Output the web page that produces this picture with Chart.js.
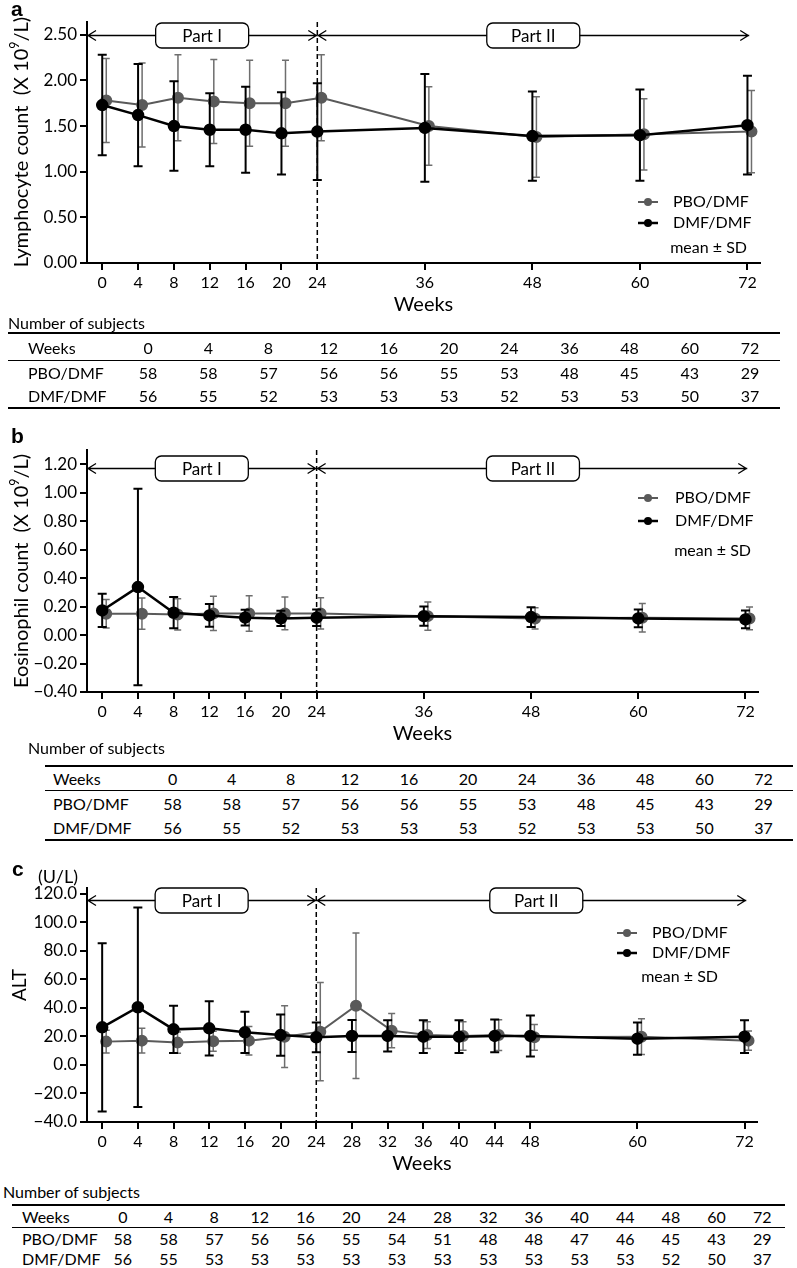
<!DOCTYPE html>
<html>
<head>
<meta charset="utf-8">
<script src="https://cdn.jsdelivr.net/npm/chart.js@4.4.1/dist/chart.umd.min.js"></script>
<style>
  body { margin: 0; background: #fff; width: 797px; height: 1268px; position: relative; overflow: hidden; font-family: Lato, sans-serif; color: #000; }
  canvas { position: absolute; left: 0; }
  .caption { position: absolute; font-size: 16px; line-height: 20px; white-space: nowrap; }
  .ntable { position: absolute; border-top: 2px solid #000; border-bottom: 2px solid #000; font-size: 16px; }
  .nrow { display: flex; box-sizing: border-box; align-items: center; }
  .nrow.head { border-bottom: 1.5px solid #000; }
  .lab { flex: none; box-sizing: border-box; white-space: nowrap; }
  .val { flex: 1; text-align: center; }
</style>
</head>
<body>
<canvas id="chartA" width="797" height="317" style="top:0px"></canvas>
<canvas id="chartB" width="797" height="326" style="top:420px"></canvas>
<canvas id="chartC" width="797" height="326" style="top:850px"></canvas>
<script>
// ---- data ----
const weeksAB = [0, 4, 8, 12, 16, 20, 24, 36, 48, 60, 72];
const weeksC = [0, 4, 8, 12, 16, 20, 24, 28, 32, 36, 40, 44, 48, 60, 72];

// a: lymphocyte count (x10^9/L), mean and SD
const lymphPboMean = [1.78, 1.73, 1.81, 1.77, 1.75, 1.75, 1.81, 1.50, 1.38, 1.41, 1.44];
const lymphPboSd   = [0.46, 0.46, 0.47, 0.46, 0.47, 0.47, 0.47, 0.43, 0.44, 0.39, 0.45];
const lymphDmfMean = [1.73, 1.62, 1.50, 1.46, 1.46, 1.42, 1.44, 1.48, 1.39, 1.40, 1.51];
const lymphDmfSd   = [0.55, 0.56, 0.49, 0.40, 0.47, 0.45, 0.53, 0.59, 0.49, 0.50, 0.54];
const lymphTicks = [0, 0.5, 1, 1.5, 2, 2.5];

// b: eosinophil count (x10^9/L)
const eosPboMean = [0.15, 0.15, 0.145, 0.152, 0.152, 0.152, 0.152, 0.133, 0.117, 0.122, 0.117];
const eosPboSd   = [0.10, 0.11, 0.11, 0.12, 0.125, 0.115, 0.11, 0.10, 0.075, 0.10, 0.08];
const eosDmfMean = [0.173, 0.337, 0.157, 0.138, 0.122, 0.117, 0.122, 0.133, 0.126, 0.117, 0.11];
const eosDmfSd   = [0.117, 0.69, 0.11, 0.08, 0.055, 0.054, 0.058, 0.068, 0.07, 0.063, 0.063];
const eosTicks = [-0.4, -0.2, 0, 0.2, 0.4, 0.6, 0.8, 1.0, 1.2];

// c: ALT (U/L)
const altPboMean = [16.4, 17.1, 15.7, 16.6, 17.1, 19.9, 23.4, 41.6, 24.1, 21.0, 20.4, 21.0, 19.4, 19.9, 17.1];
const altPboSd   = [8.0, 8.7, 7.5, 7.0, 10.0, 21.7, 34.5, 51.0, 12.0, 9.4, 10.0, 10.8, 9.0, 12.5, 6.7];
const altDmfMean = [26.4, 40.5, 25.0, 25.7, 22.9, 21.0, 19.4, 20.4, 20.4, 19.9, 19.9, 20.4, 20.4, 18.5, 19.9];
const altDmfSd   = [59.0, 70.0, 16.5, 19.0, 14.5, 14.5, 10.4, 11.2, 11.0, 11.5, 11.5, 11.5, 14.4, 11.3, 11.5];
const altTicks = [-40, -20, 0, 20, 40, 60, 80, 100, 120];

// number of subjects
const nPboAB = [58, 58, 57, 56, 56, 55, 53, 48, 45, 43, 29];
const nDmfAB = [56, 55, 52, 53, 53, 53, 52, 53, 53, 50, 37];
const nPboC = [58, 58, 57, 56, 56, 55, 54, 51, 48, 48, 47, 46, 45, 43, 29];
const nDmfC = [56, 55, 53, 53, 53, 53, 53, 53, 53, 53, 53, 53, 52, 50, 37];

// ---- styling ----
const FONT = 'Lato, sans-serif';
const PBO_COLOR = '#5a5a5a';
const PBO_ERR = '#6e6e6e';
const DMF_COLOR = '#000000';
const DODGE = 0.45; // PBO points sit a little right of DMF ones

const minus = s => s.replace('-', '\u2212');

// per-panel decorations, keyed by canvas id (kept out of Chart.js option proxies)
const panels = {
  chartA: {
    letter: { text: 'a', x: 11, y: 16 },
    yTitle: { parts: [['Lymphocyte count  (X 10'], ['9', true], ['/L)']], x: 22, y: 142, size: 20 },
    texts: [],
    partOffset: 13.5,
    parts: [{ from: null, to: 24, label: 'Part I', dx: 0 }, { from: 24, to: 72.2, label: 'Part II', dx: 0 }],
    legend: { x: 638, textX: 673, ys: [202, 223], meanX: 747, meanY: 248 }
  },
  chartB: {
    letter: { text: 'b', x: 11, y: 23 },
    yTitle: { parts: [['Eosinophil count  (X 10'], ['9', true], ['/L)']], x: 22, y: 151, size: 20 },
    texts: [],
    partOffset: 18.5,
    parts: [{ from: null, to: 24, label: 'Part I', dx: 0 }, { from: 24, to: 72.2, label: 'Part II', dx: 1 }],
    legend: { x: 638, textX: 675, ys: [78, 101], meanX: 751, meanY: 131 }
  },
  chartC: {
    letter: { text: 'c', x: 12, y: 26 },
    yTitle: { parts: [['ALT']], x: 20, y: 135, size: 19 },
    texts: [{ text: '(U/L)', x: 58, y: 27, size: 18 }],
    partOffset: 12.5,
    parts: [{ from: null, to: 24, label: 'Part I', dx: 0 }, { from: 24, to: 72.2, label: 'Part II', dx: 5 }],
    legend: { x: 617, textX: 652, ys: [83, 103], meanX: 718, meanY: 127 }
  }
};

// rotated title with an optional superscript piece
function drawRotTitle(ctx, t) {
  const sup = t.size * 0.62;
  ctx.save();
  ctx.translate(t.x, t.y);
  ctx.rotate(-Math.PI / 2);
  ctx.textAlign = 'left';
  ctx.textBaseline = 'middle';
  let total = 0;
  t.parts.forEach(([s, isSup]) => {
    ctx.font = (isSup ? sup : t.size) + 'px ' + FONT;
    total += ctx.measureText(s).width;
  });
  let cx = -total / 2;
  t.parts.forEach(([s, isSup]) => {
    ctx.font = (isSup ? sup : t.size) + 'px ' + FONT;
    ctx.fillText(s, cx, isSup ? -t.size * 0.33 : 0);
    cx += ctx.measureText(s).width;
  });
  ctx.restore();
}

// error bars, dashed split line, part arrows, legend, panel letters
const extras = {
  id: 'extras',
  beforeDatasetsDraw(chart) {
    const { ctx, chartArea: a, scales: { x } } = chart;
    const px = x.getPixelForValue(24);
    ctx.save();
    ctx.strokeStyle = '#000';
    ctx.lineWidth = 1.5;
    ctx.setLineDash([5, 3]);
    ctx.beginPath();
    ctx.moveTo(px, a.top);
    ctx.lineTo(px, a.bottom);
    ctx.stroke();
    ctx.restore();
  },
  beforeDatasetDraw(chart, args) {
    const ds = chart.data.datasets[args.index];
    const { ctx, scales: { x, y } } = chart;
    ctx.save();
    ctx.strokeStyle = ds.errColor;
    ctx.lineWidth = ds.errWidth;
    ds.data.forEach((p, i) => {
      const px = x.getPixelForValue(p.x);
      const top = y.getPixelForValue(p.y + ds.sd[i]);
      const bot = y.getPixelForValue(p.y - ds.sd[i]);
      ctx.beginPath();
      ctx.moveTo(px, top); ctx.lineTo(px, bot);
      ctx.moveTo(px - ds.cap, top); ctx.lineTo(px + ds.cap, top);
      ctx.moveTo(px - ds.cap, bot); ctx.lineTo(px + ds.cap, bot);
      ctx.stroke();
    });
    ctx.restore();
  },
  afterDraw(chart) {
    const o = panels[chart.canvas.id];
    const { ctx, chartArea: a, scales: { x } } = chart;
    ctx.save();
    ctx.fillStyle = '#000';
    ctx.strokeStyle = '#000';

    // panel letter
    ctx.font = 'bold 21px "Liberation Sans", Arial, sans-serif';
    ctx.textAlign = 'left';
    ctx.textBaseline = 'alphabetic';
    ctx.fillText(o.letter.text, o.letter.x, o.letter.y);

    drawRotTitle(ctx, o.yTitle);
    o.texts.forEach(t => {
      ctx.font = t.size + 'px ' + FONT;
      ctx.textAlign = 'center';
      ctx.textBaseline = 'middle';
      ctx.fillText(t.text, t.x, t.y);
    });

    // Part I / Part II arrows with boxed labels
    const yy = a.top + o.partOffset;
    ctx.lineWidth = 1.3;
    o.parts.forEach(pt => {
      const x1 = pt.from == null ? a.left : x.getPixelForValue(pt.from);
      const x2 = x.getPixelForValue(pt.to);
      ctx.strokeStyle = '#000';
      ctx.beginPath();
      ctx.moveTo(x1, yy); ctx.lineTo(x2, yy);
      ctx.moveTo(x1 + 9, yy - 5); ctx.lineTo(x1 + 1, yy); ctx.lineTo(x1 + 9, yy + 5);
      ctx.moveTo(x2 - 9, yy - 5); ctx.lineTo(x2 - 1, yy); ctx.lineTo(x2 - 9, yy + 5);
      ctx.stroke();
      const mid = (x1 + x2) / 2 + pt.dx;
      const bw = 93, bh = 25;
      ctx.beginPath();
      ctx.roundRect(mid - bw / 2, yy - bh / 2, bw, bh, 6);
      ctx.fillStyle = '#fff';
      ctx.fill();
      ctx.stroke();
      ctx.fillStyle = '#000';
      ctx.font = '17px ' + FONT;
      ctx.textAlign = 'center';
      ctx.textBaseline = 'middle';
      ctx.fillText(pt.label, mid, yy + 1);
    });

    // legend (PBO first, then DMF)
    const lg = o.legend;
    ctx.font = '16px ' + FONT;
    ctx.textAlign = 'left';
    ctx.textBaseline = 'middle';
    [1, 0].forEach((di, k) => {
      const ds = chart.data.datasets[di];
      const ly = lg.ys[k];
      ctx.strokeStyle = ds.borderColor;
      ctx.lineWidth = ds.borderWidth;
      ctx.beginPath();
      ctx.moveTo(lg.x, ly); ctx.lineTo(lg.x + 20, ly);
      ctx.stroke();
      ctx.fillStyle = ds.pointBackgroundColor;
      ctx.beginPath();
      ctx.arc(lg.x + 10, ly, 4, 0, Math.PI * 2);
      ctx.fill();
      ctx.fillStyle = '#000';
      ctx.fillText(ds.label, lg.textX, ly);
    });
    ctx.textAlign = 'right';
    ctx.fillText('mean \u00B1 SD', lg.meanX, lg.meanY);
    ctx.restore();
  }
};

function makeSets(weeks, pboMean, pboSd, dmfMean, dmfSd) {
  // DMF first so it is drawn on top
  return [
    {
      label: 'DMF/DMF',
      data: weeks.map((w, i) => ({ x: w, y: dmfMean[i] })),
      sd: dmfSd,
      borderColor: DMF_COLOR, pointBackgroundColor: DMF_COLOR, pointBorderColor: DMF_COLOR,
      borderWidth: 2.5, pointRadius: 5, errColor: DMF_COLOR, errWidth: 2, cap: 4.5
    },
    {
      label: 'PBO/DMF',
      data: weeks.map((w, i) => ({ x: w + DODGE, y: pboMean[i] })),
      sd: pboSd,
      borderColor: PBO_COLOR, pointBackgroundColor: PBO_COLOR, pointBorderColor: PBO_COLOR,
      borderWidth: 2, pointRadius: 5, errColor: PBO_ERR, errWidth: 1.5, cap: 3.5
    }
  ];
}

function makeChart(id, cfg) {
  return new Chart(document.getElementById(id), {
    type: 'line',
    data: { datasets: makeSets(cfg.weeks, cfg.pboMean, cfg.pboSd, cfg.dmfMean, cfg.dmfSd) },
    options: {
      responsive: false,
      animation: false,
      layout: { padding: { top: cfg.padTop, right: cfg.padRight, left: 0, bottom: 0 } },
      elements: { line: { tension: 0 } },
      plugins: { legend: { display: false }, tooltip: { enabled: false } },
      scales: {
        x: {
          type: 'linear',
          min: -1.7, max: 73.4,
          afterBuildTicks: s => { s.ticks = cfg.weeks.map(v => ({ value: v })); },
          afterFit: s => { s.height = 54; },
          ticks: { color: '#000', font: { family: FONT, size: 16 }, padding: 3, maxRotation: 0, autoSkip: false },
          grid: { drawOnChartArea: false, drawTicks: true, tickLength: 7, color: '#000', lineWidth: 2 },
          border: { display: true, color: '#000', width: 2 },
          title: { display: true, text: 'Weeks', color: '#000', font: { family: FONT, size: 20 }, padding: 0 }
        },
        y: {
          min: cfg.yMin, max: cfg.yMax,
          afterBuildTicks: s => { s.ticks = cfg.yTicks.map(v => ({ value: v })); },
          afterFit: s => { s.width = 87; },
          ticks: { color: '#000', font: { family: FONT, size: 17 }, padding: 3, callback: v => minus(v.toFixed(cfg.digits)) },
          grid: { drawOnChartArea: false, drawTicks: true, tickLength: 7, color: '#000', lineWidth: 2 },
          border: { display: true, color: '#000', width: 2 }
        }
      }
    },
    plugins: [extras]
  });
}

makeChart('chartA', {
  weeks: weeksAB, pboMean: lymphPboMean, pboSd: lymphPboSd, dmfMean: lymphDmfMean, dmfSd: lymphDmfSd,
  yMin: 0, yMax: 2.64, yTicks: lymphTicks, digits: 2, padTop: 22, padRight: 37
});
makeChart('chartB', {
  weeks: weeksAB, pboMean: eosPboMean, pboSd: eosPboSd, dmfMean: eosDmfMean, dmfSd: eosDmfSd,
  yMin: -0.4, yMax: 1.30, yTicks: eosTicks, digits: 2, padTop: 30, padRight: 39
});
makeChart('chartC', {
  weeks: weeksC, pboMean: altPboMean, pboSd: altPboSd, dmfMean: altDmfMean, dmfSd: altDmfSd,
  yMin: -40, yMax: 124.2, yTicks: altTicks, digits: 1, padTop: 38, padRight: 40
});

// ---- number-of-subjects tables ----
function buildTable(cfg) {
  const cap = document.createElement('div');
  cap.className = 'caption';
  cap.textContent = 'Number of subjects';
  cap.style.left = cfg.capX + 'px';
  cap.style.top = (cfg.capY - 10) + 'px';
  document.body.appendChild(cap);

  const wrap = document.createElement('div');
  wrap.className = 'ntable';
  wrap.style.left = cfg.left + 'px';
  wrap.style.top = cfg.top + 'px';
  wrap.style.width = cfg.width + 'px';
  const rows = [['Weeks', cfg.weeks], ['PBO/DMF', cfg.pbo], ['DMF/DMF', cfg.dmf]];
  rows.forEach((r, i) => {
    const row = document.createElement('div');
    row.className = 'nrow' + (i === 0 ? ' head' : '');
    row.style.height = cfg.rowH[i] + 'px';
    const lab = document.createElement('span');
    lab.className = 'lab';
    lab.style.width = cfg.labelW + 'px';
    lab.style.paddingLeft = cfg.labelPad + 'px';
    lab.textContent = r[0];
    row.appendChild(lab);
    r[1].forEach(v => {
      const c = document.createElement('span');
      c.className = 'val';
      c.textContent = v;
      row.appendChild(c);
    });
    wrap.appendChild(row);
  });
  document.body.appendChild(wrap);
}

buildTable({ capX: 8, capY: 323, left: 8, top: 332, width: 772, labelW: 110, labelPad: 20,
  rowH: [27, 23, 23], weeks: weeksAB, pbo: nPboAB, dmf: nDmfAB });
buildTable({ capX: 28, capY: 748, left: 45, top: 765, width: 748, labelW: 98, labelPad: 8,
  rowH: [24, 24, 24], weeks: weeksAB, pbo: nPboAB, dmf: nDmfAB });
buildTable({ capX: 3, capY: 1192, left: 12, top: 1204, width: 773, labelW: 88, labelPad: 10,
  rowH: [22, 20, 20], weeks: weeksC, pbo: nPboC, dmf: nDmfC });
</script>
</body>
</html>
